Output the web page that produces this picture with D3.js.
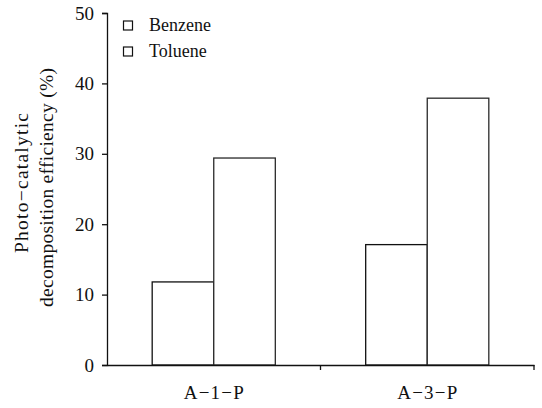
<!DOCTYPE html>
<html><head><meta charset="utf-8">
<script src="https://cdn.jsdelivr.net/npm/d3@7"></script>
<style>body{margin:0;background:#fff}svg{display:block}</style>
</head><body><svg id="c" width="542" height="408"></svg>
<script>
const categories = ["A\u22121\u2212P", "A\u22123\u2212P"];
const seriesNames = ["Benzene", "Toluene"];
const benzene = [11.8, 17.1];
const toluene = [29.4, 37.9];
const yTicks = [0, 10, 20, 30, 40, 50];
const FONT = "'Liberation Serif', 'Times New Roman', serif";

const svg = d3.select("#c");
const m = {l:107, r:534, t:13, b:365};
const x = d3.scaleBand().domain(categories).range([m.l, m.r]).paddingInner(0).paddingOuter(0);
const inner = d3.scaleBand().domain(seriesNames).range([0, x.bandwidth()]).paddingOuter(0.734).paddingInner(0);
const y = d3.scaleLinear().domain([0, 50]).range([m.b, m.t]);

const data = categories.map((c, i) => ({cat: c, vals: [benzene[i], toluene[i]]}));

const g = svg.append("g");
data.forEach(d => {
  d.vals.forEach((v, j) => {
    g.append("rect")
      .attr("x", x(d.cat) + inner(seriesNames[j]))
      .attr("y", y(v))
      .attr("width", inner.bandwidth())
      .attr("height", y(0) - y(v))
      .attr("fill", "#fff")
      .attr("stroke", j === 0 ? "#111" : "#2a2a2a")
      .attr("stroke-width", 1.3);
  });
});

// y axis
const ya = svg.append("g").attr("transform", `translate(${m.l},0)`)
  .call(d3.axisLeft(y).tickValues(yTicks).tickSize(5).tickPadding(8).tickFormat(d3.format("d")));
ya.attr("font-family", null).attr("font-size", null);
ya.select(".domain").attr("stroke", "#111").attr("stroke-width", 1.3);
ya.selectAll(".tick line").attr("stroke", "#111").attr("stroke-width", 1.3);
ya.selectAll(".tick text").style("font-family", FONT).style("font-size", "19px").attr("fill", "#111");

// x axis
const xa = svg.append("g").attr("transform", `translate(0,${m.b})`)
  .call(d3.axisBottom(x).tickSize(0).tickPadding(0));
xa.attr("font-family", null).attr("font-size", null);
xa.select(".domain").attr("stroke", "#111").attr("stroke-width", 1.3);
xa.selectAll(".tick text").attr("y", 34).attr("dy", null)
  .attr("textLength", 60).attr("lengthAdjust", "spacing")
  .style("font-family", FONT).style("font-size", "19px").attr("fill", "#111");
const bounds = [m.l + x.bandwidth(), m.r];
xa.selectAll(".bt").data(bounds).enter().append("line")
  .attr("x1", d => d).attr("x2", d => d).attr("y1", 0).attr("y2", 5)
  .attr("stroke", "#111").attr("stroke-width", 1.3);

// y label (two lines)
svg.append("text").attr("transform", "translate(28,183) rotate(-90)")
  .attr("text-anchor", "middle").attr("textLength", 140).attr("lengthAdjust", "spacing")
  .style("font-family", FONT).style("font-size", "19.5px").attr("fill", "#111")
  .text("Photo\u2212catalytic");
svg.append("text").attr("transform", "translate(53,187.5) rotate(-90)")
  .attr("text-anchor", "middle").attr("textLength", 239).attr("lengthAdjust", "spacing")
  .style("font-family", FONT).style("font-size", "19.5px").attr("fill", "#111")
  .text("decomposition efficiency (%)");

// legend
const leg = svg.append("g");
seriesNames.forEach((s, i) => {
  const yy = 21 + i * 26;
  leg.append("rect").attr("x", 123.5).attr("y", yy).attr("width", 9).attr("height", 9)
    .attr("fill", "#fff").attr("stroke", "#111").attr("stroke-width", 1.2);
  leg.append("text").attr("x", 149).attr("y", yy + 10).style("font-family", FONT)
    .style("font-size", "18px").attr("fill", "#111").text(s);
});
</script></body></html>
